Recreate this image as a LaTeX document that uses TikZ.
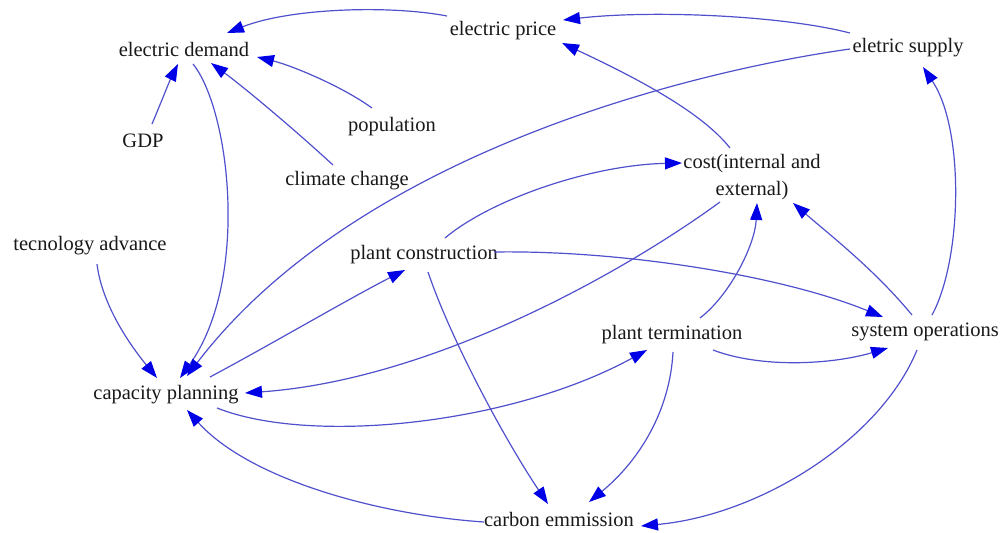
\documentclass[tikz,border=0pt]{standalone}
\usepackage{fontspec}
\setmainfont{Liberation Serif}
\usetikzlibrary{arrows.meta}
\definecolor{linec}{RGB}{80,80,205}
\definecolor{arrc}{RGB}{0,0,230}
\definecolor{txtc}{RGB}{25,25,25}
\tikzset{
  lbl/.style={font=\fontsize{20.5}{27}\selectfont, text=txtc, inner sep=0pt, align=center},
  conn/.style={draw=linec, line width=1.2pt, -{Triangle[length=17pt,width=12pt,color=arrc]}}
}
\begin{document}
\begin{tikzpicture}[x=1pt,y=-1pt]
\useasboundingbox (0,0) rectangle (1002,533);
% nodes
\node[lbl] (dem) at (184,49) {electric demand};
\node[lbl] (price) at (503,31) {electric price};
\node[lbl] (supply) at (908,48) {eletric supply};
\node[lbl] (gdp) at (143,141) {GDP};
\node[lbl] (pop) at (392,127) {population};
\node[lbl] (clim) at (347,181) {climate change};
\node[lbl] (tech) at (90,246) {tecnology advance};
\node[lbl] (cons) at (424,255) {plant construction};
\node[lbl] (cost) at (752,177) {cost(internal and\\external)};
\node[lbl] (cap) at (166,395) {capacity planning};
\node[lbl] (term) at (672,335) {plant termination};
\node[lbl] (ops) at (925,332) {system operations};
\node[lbl] (carb) at (559,519) {carbon emmission};
% connectors
\draw[conn] ([shift={(-56,-15)}]price.center) .. controls (390,5) and (290,8) .. ([shift={(43,-16)}]dem.center);
\draw[conn] ([shift={(-58,-15)}]supply.center) .. controls (780,15) and (650,10) .. ([shift={(60,-11)}]price.center);
\draw[conn] ([shift={(-20,-19)}]pop.center) .. controls (340,85) and (290,65) .. ([shift={(73,8)}]dem.center);
\draw[conn] ([shift={(-14,-16)}]clim.center) .. controls (295,130) and (245,88) .. ([shift={(27,14)}]dem.center);
\draw[conn] ([shift={(9,-17)}]gdp.center) .. controls (160,105) and (170,80) .. ([shift={(-6,15)}]dem.center);
\draw[conn] ([shift={(9,15)}]dem.center) .. controls (230,110) and (250,280) .. ([shift={(14,-17)}]cap.center);
\draw[conn] ([shift={(7,18)}]tech.center) .. controls (102,305) and (130,345) .. ([shift={(-9,-17)}]cap.center);
\draw[conn] ([shift={(-58,1)}]supply.center) .. controls (700,70) and (360,150) .. ([shift={(21,-19)}]cap.center);
\draw[conn] ([shift={(44,-18)}]cap.center) .. controls (270,345) and (350,298) .. ([shift={(-19,15)}]cons.center);
\draw[conn] ([shift={(21,-17)}]cons.center) .. controls (490,200) and (590,165) .. ([shift={(-70,-14)}]cost.center);
\draw[conn] ([shift={(-22,-29)}]cost.center) .. controls (700,110) and (630,75) .. ([shift={(59,12)}]price.center);
\draw[conn] ([shift={(-32,25)}]cost.center) .. controls (620,275) and (430,380) .. ([shift={(79,-2)}]cap.center);
\draw[conn] ([shift={(70,-3)}]cons.center) .. controls (620,250) and (780,275) .. ([shift={(-42,-15)}]ops.center);
\draw[conn] ([shift={(28,-17)}]term.center) .. controls (730,295) and (755,245) .. ([shift={(5,26)}]cost.center);
\draw[conn] ([shift={(-13,-17)}]ops.center) .. controls (875,270) and (830,235) .. ([shift={(41,26)}]cost.center);
\draw[conn] ([shift={(7,-17)}]ops.center) .. controls (962,260) and (965,130) .. ([shift={(15,19)}]supply.center);
\draw[conn] ([shift={(-8,18)}]ops.center) .. controls (880,440) and (760,515) .. ([shift={(82,7)}]carb.center);
\draw[conn] ([shift={(41,15)}]term.center) .. controls (760,368) and (830,365) .. ([shift={(-37,16)}]ops.center);
\draw[conn] ([shift={(1,17)}]term.center) .. controls (670,410) and (640,460) .. ([shift={(30,-17)}]carb.center);
\draw[conn] ([shift={(4,17)}]cons.center) .. controls (451,340) and (505,440) .. ([shift={(-11,-15)}]carb.center);
\draw[conn] ([shift={(51,13)}]cap.center) .. controls (310,445) and (510,425) .. ([shift={(-25,15)}]term.center);
\draw[conn] ([shift={(-75,3)}]carb.center) .. controls (380,515) and (250,480) .. ([shift={(21,15)}]cap.center);
\end{tikzpicture}
\end{document}
